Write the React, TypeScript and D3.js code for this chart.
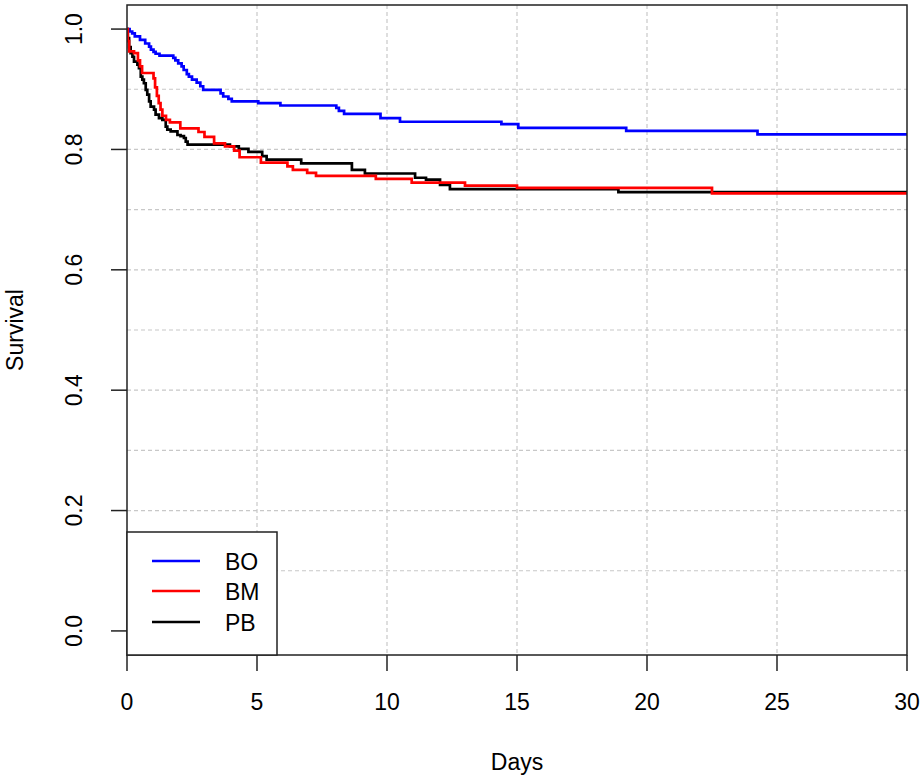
import React from "react";
import * as d3 from "d3";

const W = 924;
const H = 780;

const xTicks = [0, 5, 10, 15, 20, 25, 30];
const yTicks = [0, 0.2, 0.4, 0.6, 0.8, 1.0];
const yTickLabels = ["0.0", "0.2", "0.4", "0.6", "0.8", "1.0"];
const xGrid = [5, 10, 15, 20, 25];
const yGrid = [0.1, 0.2, 0.3, 0.4, 0.5, 0.6, 0.7, 0.8, 0.9];

const groups = ["BO", "BM", "PB"];
const groupColors = ["#0000ff", "#ff0000", "#000000"];

// BO (blue)
const boTime = [0, 0.1, 0.2, 0.3, 0.5, 0.7, 0.85, 0.92, 1.02, 1.1, 1.25, 1.78, 1.86, 1.97, 2.1, 2.18, 2.3, 2.38, 2.5, 2.68, 2.82, 2.93, 3.6, 3.7, 3.9, 4.03, 5.05, 5.9, 8.05, 8.15, 8.35, 9.75, 10.5, 14.4, 15.05, 19.2, 24.25];
const boSurv = [1, 0.996, 0.993, 0.988, 0.982, 0.976, 0.971, 0.966, 0.962, 0.959, 0.956, 0.952, 0.948, 0.943, 0.938, 0.932, 0.925, 0.921, 0.916, 0.911, 0.905, 0.899, 0.893, 0.888, 0.884, 0.88, 0.877, 0.873, 0.869, 0.864, 0.859, 0.852, 0.846, 0.842, 0.836, 0.831, 0.825];

// BM (red)
const bmTime = [0, 0.03, 0.08, 0.27, 0.42, 0.5, 0.58, 1.02, 1.08, 1.15, 1.22, 1.29, 1.36, 1.5, 1.65, 2.05, 2.75, 2.98, 3.35, 3.77, 4.12, 4.33, 5.15, 6.17, 6.38, 6.93, 7.27, 9.57, 10.95, 13.0, 15.0, 22.5];
const bmSurv = [1, 0.98, 0.963, 0.96, 0.948, 0.938, 0.927, 0.918, 0.903, 0.889, 0.877, 0.866, 0.856, 0.849, 0.845, 0.835, 0.829, 0.821, 0.81, 0.805, 0.798, 0.787, 0.778, 0.772, 0.766, 0.761, 0.756, 0.751, 0.745, 0.74, 0.736, 0.727];

// PB (black)
const pbTime = [0, 0.03, 0.08, 0.14, 0.21, 0.27, 0.4, 0.46, 0.53, 0.59, 0.65, 0.72, 0.78, 0.85, 0.91, 1.04, 1.1, 1.23, 1.36, 1.49, 1.55, 1.68, 1.94, 2.06, 2.19, 2.26, 2.33, 3.96, 4.3, 4.67, 5.2, 5.37, 6.7, 8.65, 9.15, 11.08, 11.5, 12.04, 12.42, 18.9];
const pbSurv = [1, 0.985, 0.97, 0.96, 0.954, 0.946, 0.941, 0.935, 0.921, 0.916, 0.91, 0.899, 0.891, 0.88, 0.871, 0.866, 0.858, 0.852, 0.849, 0.838, 0.833, 0.83, 0.824, 0.822, 0.819, 0.813, 0.808, 0.805, 0.801, 0.796, 0.789, 0.783, 0.777, 0.766, 0.76, 0.753, 0.75, 0.741, 0.734, 0.729];

const seriesTimes = [boTime, bmTime, pbTime];
const seriesSurv = [boSurv, bmSurv, pbSurv];
const drawOrder = [0, 2, 1];

const L = 127, R = 907, T = 5, B = 655;
const FONT = "'Liberation Sans', Arial, sans-serif";

export default function App() {
  const x = d3.scaleLinear().domain([0, 30]).range([L, R]);
  const y = d3.scaleLinear().domain([-0.04, 1.04]).range([B, T]);
  const line = d3
    .line<[number, number]>()
    .x((d) => x(d[0]))
    .y((d) => y(d[1]))
    .curve(d3.curveStepAfter);

  const paths = seriesTimes.map((ts, i) => {
    const pts: [number, number][] = ts.map((t, j) => [t, seriesSurv[i][j]]);
    pts.push([30, seriesSurv[i][seriesSurv[i].length - 1]]);
    return line(pts) || "";
  });

  const legX = L, legY = 532, legW = 150, legH = B - 532;
  const legRows = [561, 591, 622];

  return (
    <svg
      width={W}
      height={H}
      style={{ position: "absolute", left: 0, top: 0, background: "#fff" }}
      fontFamily={FONT}
    >
      <rect x={0} y={0} width={W} height={H} fill="#fff" />
      {/* grid */}
      {xGrid.map((g) => (
        <line key={"gx" + g} x1={x(g)} x2={x(g)} y1={T} y2={B} stroke="#c8c8c8" strokeWidth={1.2} strokeDasharray="4 3" />
      ))}
      {yGrid.map((g) => (
        <line key={"gy" + g} x1={L} x2={R} y1={y(g)} y2={y(g)} stroke="#c8c8c8" strokeWidth={1.2} strokeDasharray="4 3" />
      ))}
      {/* curves */}
      <g clipPath="url(#clip)">
        {drawOrder.map((i) => (
          <path key={groups[i]} d={paths[i]} fill="none" stroke={groupColors[i]} strokeWidth={2.7} />
        ))}
      </g>
      <defs>
        <clipPath id="clip">
          <rect x={L} y={T} width={R - L} height={B - T} />
        </clipPath>
      </defs>
      {/* box */}
      <rect x={L} y={T} width={R - L} height={B - T} fill="none" stroke="#222" strokeWidth={1.5} />
      {/* x axis */}
      {xTicks.map((t) => (
        <g key={"xt" + t}>
          <line x1={x(t)} x2={x(t)} y1={B} y2={B + 16} stroke="#222" strokeWidth={1.5} />
          <text x={x(t)} y={710} textAnchor="middle" fontSize={23} fill="#000">
            {t}
          </text>
        </g>
      ))}
      {/* y axis */}
      {yTicks.map((t, i) => (
        <g key={"yt" + t}>
          <line x1={L} x2={L - 16} y1={y(t)} y2={y(t)} stroke="#222" strokeWidth={1.5} />
          <text
            transform={`translate(82,${y(t)}) rotate(-90)`}
            textAnchor="middle"
            fontSize={23}
            fill="#000"
          >
            {yTickLabels[i]}
          </text>
        </g>
      ))}
      <text x={x(15)} y={770} textAnchor="middle" fontSize={23} fill="#000">
        Days
      </text>
      <text transform={`translate(23,${(T + B) / 2}) rotate(-90)`} textAnchor="middle" fontSize={23} fill="#000">
        Survival
      </text>
      {/* legend */}
      <rect x={legX} y={legY} width={legW} height={legH} fill="#fff" stroke="#222" strokeWidth={1.5} />
      {groups.map((g, i) => (
        <g key={"lg" + g}>
          <line x1={152} x2={200} y1={legRows[i]} y2={legRows[i]} stroke={groupColors[i]} strokeWidth={2.7} />
          <text x={225} y={legRows[i] + 8.5} fontSize={23} fill="#000">
            {g}
          </text>
        </g>
      ))}
    </svg>
  );
}
